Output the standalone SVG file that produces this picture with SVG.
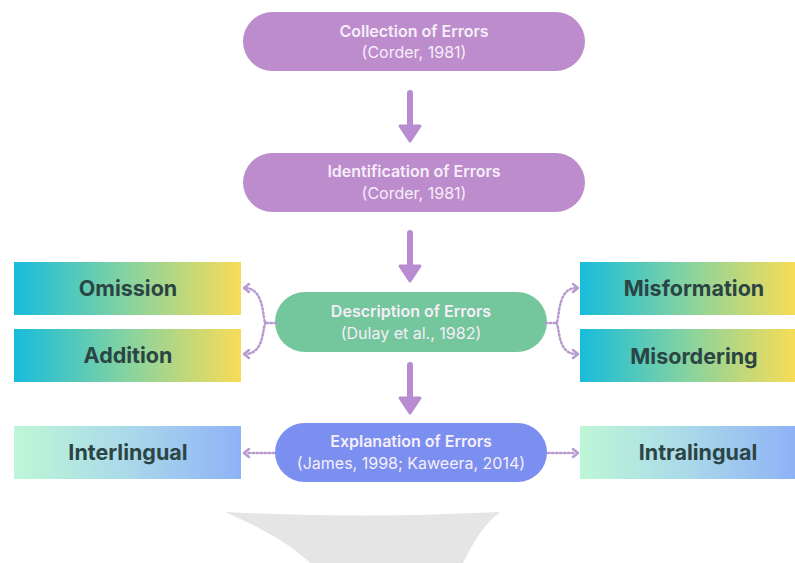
<svg xmlns="http://www.w3.org/2000/svg" width="795" height="563" viewBox="0 0 795 563">
<style>
.t{font-family:Inter,"DejaVu Sans",sans-serif;font-size:16px;font-weight:600;fill:#f6eef8;text-anchor:middle}
.s{font-family:Inter,"DejaVu Sans",sans-serif;font-size:16px;font-weight:400;fill:#f6eef8;text-anchor:middle}
.b{font-family:Inter,"DejaVu Sans",sans-serif;font-size:21.5px;font-weight:700;fill:#2b4544;text-anchor:middle}
.dot{fill:none;stroke:#b79bcf;stroke-width:2.5;stroke-dasharray:1.5 2.5;stroke-linecap:round}
.ah{fill:none;stroke:#b79bcf;stroke-width:2.5;stroke-linecap:round;stroke-linejoin:round}
.sh{stroke:#b98bd0;stroke-width:6;stroke-linecap:round}
.hd{fill:#b98bd0;stroke:#b98bd0;stroke-width:3;stroke-linejoin:round}
</style>
<defs>
<linearGradient id="g1" x1="0" x2="1" y1="0" y2="0"><stop offset="0" stop-color="#18bcdc"/><stop offset="0.5" stop-color="#86d3a0"/><stop offset="1" stop-color="#f8dc57"/></linearGradient>
<linearGradient id="g2" x1="0" x2="1" y1="0" y2="0"><stop offset="0" stop-color="#bdf7d6"/><stop offset="0.5" stop-color="#aad9ea"/><stop offset="1" stop-color="#8fb2f6"/></linearGradient>
</defs>
<rect width="795" height="563" fill="#ffffff"/>
<path d="M225 512 Q362 519 500 512 C482 526 472 545 463 563 L310 563 C292 545 258 526 225 512 Z" fill="#e5e5e5"/>
<g id="collection"><rect x="243" y="12" width="342" height="59" rx="29.5" fill="#bd8ccd"/><text class="t" x="414" y="37">Collection of Errors</text><text class="s" x="414" y="58">(Corder, 1981)</text></g>
<g id="identification"><rect x="243" y="153" width="342" height="59" rx="29.5" fill="#bd8ccd"/><text class="t" x="414" y="177">Identification of Errors</text><text class="s" x="414" y="199">(Corder, 1981)</text></g>
<g id="description"><rect x="275" y="292" width="272" height="60" rx="30" fill="#74c69d"/><text class="t" x="411" y="317">Description of Errors</text><text class="s" x="411" y="339">(Dulay et al., 1982)</text></g>
<g id="explanation"><rect x="275" y="423" width="272" height="59" rx="29.5" fill="#7b8ff1"/><text class="t" x="411" y="447">Explanation of Errors</text><text class="s" x="411" y="469">(James, 1998; Kaweera, 2014)</text></g>
<g id="omission"><rect x="14" y="262" width="227" height="53" fill="url(#g1)"/><text class="b" x="128" y="296">Omission</text></g>
<g id="addition"><rect x="14" y="329" width="227" height="53" fill="url(#g1)"/><text class="b" x="128" y="363">Addition</text></g>
<g id="misformation"><rect x="580" y="262" width="215" height="53" fill="url(#g1)"/><text class="b" x="694" y="296">Misformation</text></g>
<g id="misordering"><rect x="580" y="329" width="215" height="53" fill="url(#g1)"/><text class="b" x="694" y="364">Misordering</text></g>
<g id="interlingual"><rect x="14" y="426" width="227" height="53" fill="url(#g2)"/><text class="b" x="128" y="460">Interlingual</text></g>
<g id="intralingual"><rect x="580" y="426" width="215" height="53" fill="url(#g2)"/><text class="b" x="698" y="460">Intralingual</text></g>
<g id="connectors">
<line class="sh" x1="410" y1="93" x2="410" y2="126"/><path class="hd" d="M400 126 L420 126 L410 141 Z"/>
<line class="sh" x1="410" y1="233" x2="410" y2="266"/><path class="hd" d="M400 266 L420 266 L410 281 Z"/>
<line class="sh" x1="410" y1="365" x2="410" y2="398"/><path class="hd" d="M400 398 L420 398 L410 413 Z"/>
<path class="dot" d="M276 323 L266 323 C262 323 266 288 245 288"/>
<path class="dot" d="M266 323 C262 323 266 354 245 354"/>
<path class="ah" d="M249 284 L244 288 L249 292"/>
<path class="ah" d="M249 350 L244 354 L249 358"/>
<path class="dot" d="M546 323 L556 323 C560 323 556 288 576 288"/>
<path class="dot" d="M556 323 C560 323 556 354 576 354"/>
<path class="ah" d="M573 284 L578 288 L573 292"/>
<path class="ah" d="M573 350 L578 354 L573 358"/>
<path class="dot" d="M274 453 L246 453"/><path class="ah" d="M249 449 L244 453 L249 457"/>
<path class="dot" d="M548 453 L576 453"/><path class="ah" d="M573 449 L578 453 L573 457"/>
</g>
</svg>
